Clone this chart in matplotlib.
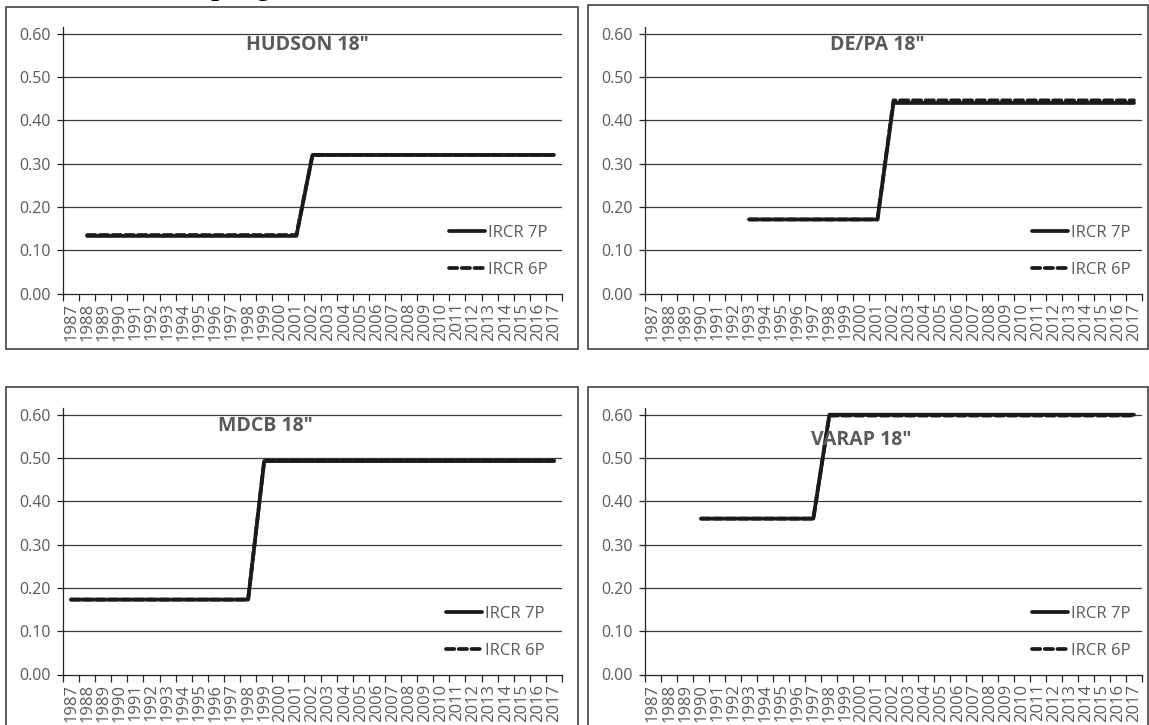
import numpy as np
import matplotlib
matplotlib.use('Agg')
import matplotlib.pyplot as plt
from matplotlib.patches import Rectangle

plt.rcParams['font.family'] = ['Open Sans', 'DejaVu Sans']

nan = np.nan
years = list(range(1987, 2018))
y_ticks = [0.0, 0.1, 0.2, 0.3, 0.4, 0.5, 0.6]

# HUDSON 18"
hudson_7p = [nan, 0.133, 0.133, 0.133, 0.133, 0.133, 0.133, 0.133, 0.133, 0.133, 0.133,
             0.133, 0.133, 0.133, 0.133, 0.320, 0.320, 0.320, 0.320, 0.320, 0.320,
             0.320, 0.320, 0.320, 0.320, 0.320, 0.320, 0.320, 0.320, 0.320, 0.320]
hudson_6p = [nan, 0.135, 0.135, 0.135, 0.135, 0.135, 0.135, 0.135, 0.135, 0.135, 0.135,
             0.135, 0.135, 0.135, 0.135, 0.320, 0.320, 0.320, 0.320, 0.320, 0.320,
             0.320, 0.320, 0.320, 0.320, 0.320, 0.320, 0.320, 0.320, 0.320, 0.320]
# DE/PA 18"
depa_7p = [nan, nan, nan, nan, nan, nan, 0.171, 0.171, 0.171, 0.171, 0.171,
           0.171, 0.171, 0.171, 0.171, 0.440, 0.440, 0.440, 0.440, 0.440, 0.440,
           0.440, 0.440, 0.440, 0.440, 0.440, 0.440, 0.440, 0.440, 0.440, 0.440]
depa_6p = [nan, nan, nan, nan, nan, nan, 0.171, 0.171, 0.171, 0.171, 0.171,
           0.171, 0.171, 0.171, 0.171, 0.446, 0.446, 0.446, 0.446, 0.446, 0.446,
           0.446, 0.446, 0.446, 0.446, 0.446, 0.446, 0.446, 0.446, 0.446, 0.446]
# MDCB 18"
mdcb_7p = [0.173, 0.173, 0.173, 0.173, 0.173, 0.173, 0.173, 0.173, 0.173, 0.173, 0.173,
           0.173, 0.493, 0.493, 0.493, 0.493, 0.493, 0.493, 0.493, 0.493, 0.493,
           0.493, 0.493, 0.493, 0.493, 0.493, 0.493, 0.493, 0.493, 0.493, 0.493]
mdcb_6p = [0.173, 0.173, 0.173, 0.173, 0.173, 0.173, 0.173, 0.173, 0.173, 0.173, 0.173,
           0.173, 0.494, 0.494, 0.494, 0.494, 0.494, 0.494, 0.494, 0.494, 0.494,
           0.494, 0.494, 0.494, 0.494, 0.494, 0.494, 0.494, 0.494, 0.494, 0.494]
# VARAP 18"
varap_7p = [nan, nan, nan, 0.360, 0.360, 0.360, 0.360, 0.360, 0.360, 0.360, 0.360,
            0.600, 0.600, 0.600, 0.600, 0.600, 0.600, 0.600, 0.600, 0.600, 0.600,
            0.600, 0.600, 0.600, 0.600, 0.600, 0.600, 0.600, 0.600, 0.600, 0.600]
varap_6p = [nan, nan, nan, 0.360, 0.360, 0.360, 0.360, 0.360, 0.360, 0.360, 0.360,
            0.598, 0.598, 0.598, 0.598, 0.598, 0.598, 0.598, 0.598, 0.598, 0.598,
            0.598, 0.598, 0.598, 0.598, 0.598, 0.598, 0.598, 0.598, 0.598, 0.598]

W, H = 1149, 725
GRAY = '#595959'
LINE = '#1a1a1a'
fig = plt.figure(figsize=(W / 100, H / 100), dpi=100)

# heading above the charts, cut off by the page edge (only descenders show)
fig.text(161 / W, 1 + 5.0 / H, 'Sampling', family=['Liberation Serif', 'DejaVu Serif'],
         fontweight='bold', fontsize=19.5, va='baseline', ha='left', color='black')

# outer frames around each chart (pixels: x0, y0, x1, y1)
for x0, y0, x1, y1 in [(6, 7, 578, 349), (588, 5, 1148, 349),
                       (6, 387, 578, 740), (588, 387, 1148, 740)]:
    fig.patches.append(Rectangle((x0 / W, 1 - y1 / H), (x1 - x0) / W, (y1 - y0) / H,
                                 transform=fig.transFigure, fill=False,
                                 edgecolor='#333333', lw=1.1))

YTOP = 0.616
PX_PER_UNIT = 433.0


def panel(left, right, zero_y, title, title_xy, s7, s6, leg_x):
    height = YTOP * PX_PER_UNIT
    ax = fig.add_axes([left / W, 1 - zero_y / H, (right - left) / W, height / H])
    x = np.arange(len(years))
    ax.plot(x, s7, color=LINE, lw=2.7, solid_capstyle='round', label='IRCR 7P', zorder=3)
    ax.plot(x, s6, color=LINE, lw=2.7, linestyle=(0, (2.2, 1.2)),
            dash_capstyle='round', label='IRCR 6P', zorder=4)
    ax.set_xlim(-0.5, len(years) - 0.5)
    ax.set_ylim(0, YTOP)
    ax.set_yticks(y_ticks)
    ax.set_yticklabels(['%.2f' % v for v in y_ticks])
    ax.set_xticks(np.arange(-0.5, len(years), 1.0))
    ax.set_xticklabels([])
    ax.set_xticks(x, minor=True)
    ax.set_xticklabels([str(y) for y in years], minor=True, rotation=90)
    ax.tick_params(axis='x', which='major', length=5, width=0.9, color='#222222', direction='out')
    ax.tick_params(axis='x', which='minor', length=0, pad=6.5, labelsize=12, labelcolor=GRAY)
    ax.tick_params(axis='y', length=4, width=0.9, color='#222222', pad=5,
                   labelsize=11.5, labelcolor=GRAY)
    for v in y_ticks[1:]:
        ax.axhline(v, color='#3a3a3a', lw=0.9, zorder=1)
    for s in ['top', 'right']:
        ax.spines[s].set_visible(False)
    for s in ['left', 'bottom']:
        ax.spines[s].set_color('#222222')
        ax.spines[s].set_linewidth(0.9)
    ax.set_facecolor('none')
    ax.legend(loc='center', bbox_to_anchor=((leg_x - left) / (right - left), 0.159),
              frameon=False, fontsize=12, labelcolor=GRAY, handlelength=2.2,
              handletextpad=0.15, labelspacing=1.25, borderpad=0)
    fig.text(title_xy[0] / W, 1 - title_xy[1] / H, title, ha='center', va='center',
             fontsize=14, fontweight='bold', color=GRAY)
    return ax


panel(63, 562, 293.5, 'HUDSON 18"', (307, 45), hudson_7p, hudson_6p, 498)
panel(645, 1142, 293.5, 'DE/PA 18"', (877, 45), depa_7p, depa_6p, 1081)
panel(63, 562, 674.5, 'MDCB 18"', (265, 426), mdcb_7p, mdcb_6p, 495)
panel(645, 1142, 674.5, 'VARAP 18"', (861, 440), varap_7p, varap_6p, 1081)

fig.savefig('out.png', dpi=100)
